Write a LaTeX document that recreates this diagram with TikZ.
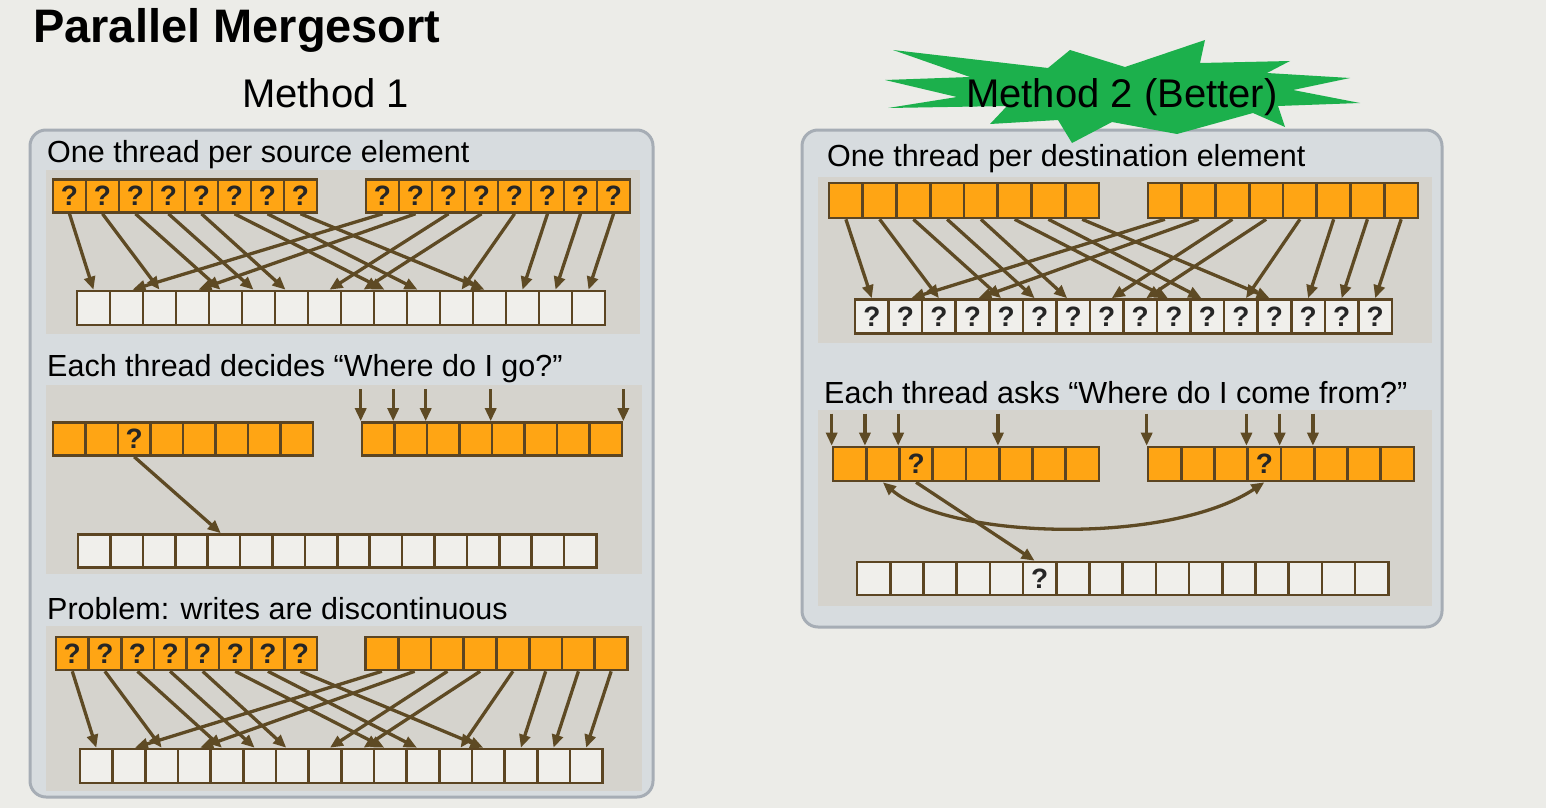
\documentclass[tikz,border=0pt]{standalone}
\usepackage{fontspec}
\setmainfont{Liberation Sans}
\usetikzlibrary{arrows.meta, positioning}

\definecolor{pagebg}{HTML}{ECECE8}
\definecolor{panelfill}{HTML}{D7DCDF}
\definecolor{panelline}{HTML}{A6ADB5}
\definecolor{innerfill}{HTML}{D5D3CD}
\definecolor{cellorange}{HTML}{FFA514}
\definecolor{cellwhite}{HTML}{F0EFEB}
\definecolor{celledge}{HTML}{5C4522}
\definecolor{linkbrown}{HTML}{5E4A24}
\definecolor{stargreen}{HTML}{1CB04C}

\begin{document}
\begin{tikzpicture}[x=1pt, y=-1pt,
    cell/.style={draw=celledge, line width=2.6pt, minimum width=33pt, minimum height=33pt,
      inner sep=0pt, text=black!85, font=\fontsize{28}{28}\selectfont\bfseries},
    src/.style={cell, fill=cellorange},
    dst/.style={cell, fill=cellwhite},
    tip/.tip={Triangle[length=13pt, width=11pt]},
    link/.style={draw=linkbrown, line width=3.3pt, -tip},
    heading/.style={anchor=base west, inner sep=0pt, font=\fontsize{30.5}{36}\selectfont},
    method/.style={anchor=base west, inner sep=0pt, font=\fontsize{40}{48}\selectfont},
    panel/.style={fill=panelfill, draw=panelline, line width=3pt, rounded corners=16pt},
    inner/.style={fill=innerfill}]
    \useasboundingbox[fill=pagebg] (0,0) rectangle (1546,808);

    % Define the panels
    \path[panel] (30,130) rectangle (653,797);
    \path[panel] (802,130) rectangle (1442,627);
    \path[inner] (46,170) rectangle (640,334);
    \path[inner] (46,385) rectangle (642,574);
    \path[inner] (46,626) rectangle (642,791);
    \path[inner] (818,177) rectangle (1432,343);
    \path[inner] (818,410) rectangle (1432,606);

    % Define the titles
    \node[anchor=base west, inner sep=0pt, font=\fontsize{47}{56}\selectfont\bfseries] (title) at (33,43) {Parallel Mergesort};
    \node[method] (method1) at (242,107) {Method 1};
    \fill[stargreen] (893,50) -- (1048,68) -- (1070,50) -- (1125,67) -- (1205,40) -- (1200,63)
      -- (1290,61) -- (1267,73) -- (1350,78) -- (1293,90) -- (1360,103) -- (1278,106)
      -- (1285,127) -- (1253,113) -- (1177,134) -- (1112,122) -- (1072,143) -- (1058,120)
      -- (990,124) -- (1007,106) -- (888,108) -- (957,97) -- (885,80) -- (970,77) -- cycle;
    \node[method] (method2) at (966,107) {Method 2 (Better)};

    \node[heading] (srclabel) at (47,162) {One thread per source element};
    \node[heading] (golabel) at (47,376) {Each thread decides “Where do I go?”};
    \node[heading] (problabel) at (47,619) {Problem: writes are discontinuous};
    \node[heading] (dstlabel) at (827,166) {One thread per destination element};
    \node[heading] (comelabel) at (824,403) {Each thread asks “Where do I come from?”};

    % One thread per source element
    \foreach \i in {0,...,7} {
      \node[src] (sa\i) at (69.5+33*\i,196) {?};
      \node[src] (sb\i) at (382.5+33*\i,196) {?};
    }
    \foreach \i in {0,...,15} \node[dst, minimum height=34pt] (sm\i) at (93.5+33*\i,308) {};
    \foreach \i/\j/\s in {0/0/0, 1/2/0, 2/4/-5, 3/5/-5, 4/6/-6, 5/9/-6, 6/10/-6, 7/12/-5}
      \draw[link] (sa\i.south) -- ([xshift=\s pt]sm\j.north);
    \foreach \i/\j/\s in {0/1/6, 1/3/6, 2/7/5, 3/8/6, 4/11/5, 5/13/0, 6/14/0, 7/15/0}
      \draw[link] (sb\i.south) -- ([xshift=\s pt]sm\j.north);

    % Each thread decides where it goes
    \foreach \i in {0,...,7} {
      \node[src, minimum width=32.5pt] (ga\i) at (69.25+32.5*\i,439) {\ifnum\i=2 ?\fi};
      \node[src, minimum width=32.5pt] (gb\i) at (378.25+32.5*\i,439) {};
    }
    \foreach \i in {0,...,15} \node[dst, minimum width=32.4pt] (gm\i) at (94.2+32.4*\i,551) {};
    \foreach \k in {0,1,2,4} {
      \coordinate[above=32pt of gb\k.north west] (gt\k);
      \draw[link] (gt\k) -- (gb\k.north west);
    }
    \coordinate[above=32pt of gb7.north east] (gt8);
    \draw[link] (gt8) -- (gb7.north east);
    \draw[link] (ga2.south) -- ([xshift=-3pt]gm4.north);

    % Problem: writes are discontinuous
    \foreach \i in {0,...,7} {
      \node[src, minimum width=32.6pt] (pa\i) at (72.3+32.6*\i,653.5) {?};
      \node[src, minimum width=32.75pt] (pb\i) at (381.9+32.75*\i,653.5) {};
    }
    \foreach \i in {0,...,15} \node[dst, minimum width=32.66pt, minimum height=34pt] (pm\i) at (96.3+32.66*\i,766) {};
    \foreach \i/\j/\s in {0/0/0, 1/2/0, 2/4/-5, 3/5/-5, 4/6/-6, 5/9/-6, 6/10/-6, 7/12/-5}
      \draw[link] (pa\i.south) -- ([xshift=\s pt]pm\j.north);
    \foreach \i/\j/\s in {0/1/6, 1/3/6, 2/7/5, 3/8/6, 4/11/5, 5/13/0, 6/14/0, 7/15/0}
      \draw[link] (pb\i.south) -- ([xshift=\s pt]pm\j.north);

    % One thread per destination element
    \foreach \i in {0,...,7} {
      \node[src, minimum width=33.75pt, minimum height=35pt] (da\i) at (845.9+33.75*\i,200.5) {};
      \node[src, minimum width=33.75pt, minimum height=35pt] (db\i) at (1164.9+33.75*\i,200.5) {};
    }
    \foreach \i in {0,...,15} \node[dst, minimum width=33.56pt, minimum height=34pt] (dm\i) at (871.8+33.56*\i,316.5) {?};
    \foreach \i/\j/\s in {0/0/0, 1/2/0, 2/4/-5, 3/5/-5, 4/6/-6, 5/9/-6, 6/10/-6, 7/12/-5}
      \draw[link] (da\i.south) -- ([xshift=\s pt]dm\j.north);
    \foreach \i/\j/\s in {0/1/6, 1/3/6, 2/7/5, 3/8/6, 4/11/5, 5/13/0, 6/14/0, 7/15/0}
      \draw[link] (db\i.south) -- ([xshift=\s pt]dm\j.north);

    % Each thread asks where it comes from
    \foreach \i in {0,...,7} {
      \node[src, minimum width=33.25pt, minimum height=34pt] (ca\i) at (849.6+33.25*\i,464) {\ifnum\i=2 ?\fi};
      \node[src, minimum width=33.25pt, minimum height=34pt] (cb\i) at (1164.6+33.25*\i,464) {\ifnum\i=3 ?\fi};
    }
    \foreach \i in {0,...,15} \node[dst, minimum width=33.2pt] (cm\i) at (873.6+33.2*\i,578.5) {\ifnum\i=5 ?\fi};
    \foreach \k in {0,1,2,5} {
      \coordinate[above=32pt of ca\k.north west] (ct\k);
      \draw[link] (ct\k) -- (ca\k.north west);
    }
    \foreach \k in {0,3,4,5} {
      \coordinate[above=32pt of cb\k.north west] (cu\k);
      \draw[link] (cu\k) -- (cb\k.north west);
    }
    \draw[link, tip-tip] (ca1.south) .. controls (950,540) and (1170,545) .. (cb3.south);
    \draw[link] (ca2.south) -- ([xshift=-5pt]cm5.north);
\end{tikzpicture}
\end{document}
